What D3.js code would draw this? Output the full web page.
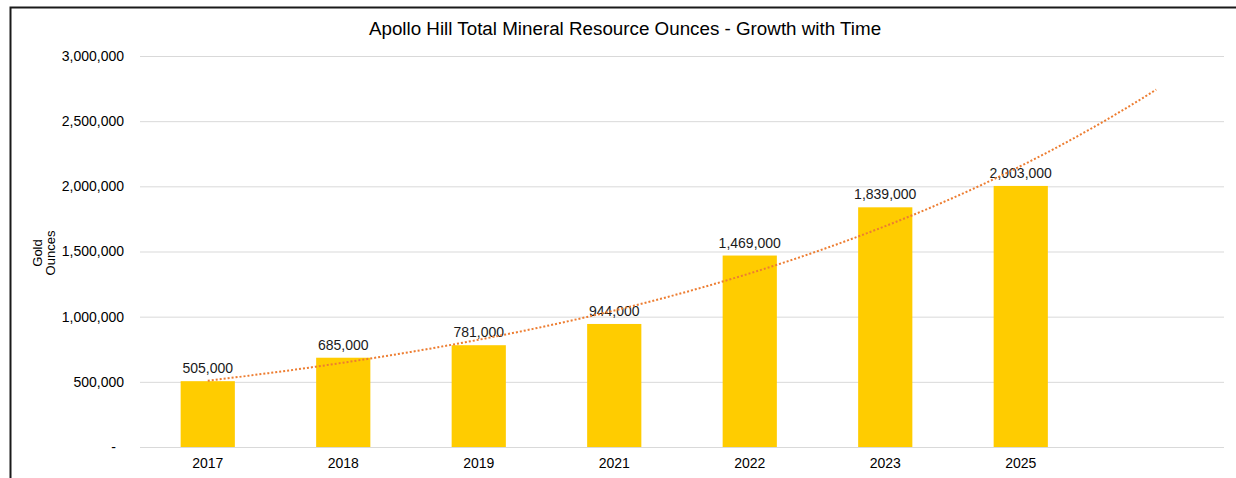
<!DOCTYPE html>
<html>
<head>
<meta charset="utf-8">
<script src="https://cdn.jsdelivr.net/npm/d3@7"></script>
<style>
  html, body { margin: 0; padding: 0; background: #fff; }
  svg { display: block; font-family: "Liberation Sans", Arial, sans-serif; }
</style>
</head>
<body>
<svg id="chart" width="1236" height="478"></svg>
<script>
// ---- data ----
const categories = ["2017", "2018", "2019", "2021", "2022", "2023", "2025"];
const ounces = [505000, 685000, 781000, 944000, 1469000, 1839000, 2003000];
const yTicks = [0, 500000, 1000000, 1500000, 2000000, 2500000, 3000000];
const forecastSlots = 1; // trendline forecast forward one period
const title = "Apollo Hill Total Mineral Resource Ounces - Growth with Time";

const svg = d3.select("#chart");
const W = 1236, H = 478;
const m = { left: 140, right: 12, top: 56, bottom: 31 };
const plotW = W - m.left - m.right;
const plotH = H - m.top - m.bottom;

// frame
svg.append("path")
  .attr("d", `M10.5,${H} V7.5 H${W}`)
  .attr("fill", "none").attr("stroke", "#1a1a1a").attr("stroke-width", 2);

// slots: data categories plus forecast slot(s)
const slots = categories.map((c, i) => i).concat(d3.range(categories.length, categories.length + forecastSlots));
const x = d3.scaleBand().domain(slots).range([m.left, m.left + plotW]).paddingInner(0.6).paddingOuter(0.3);
const xc = i => x(i) + x.bandwidth() / 2;
const y = d3.scaleLinear().domain([0, 3000000]).range([m.top + plotH, m.top]);

// gridlines
const fmt = d3.format(",");
const yAxis = d3.axisLeft(y).tickValues(yTicks)
  .tickSize(-plotW)
  .tickFormat(d => d === 0 ? "-" : fmt(d));
const gy = svg.append("g").attr("transform", `translate(${m.left},0)`).call(yAxis);
gy.select(".domain").remove();
gy.selectAll(".tick line").attr("stroke", "#d9d9d9").attr("stroke-width", 1);
gy.selectAll(".tick text")
  .attr("x", -16).attr("fill", "#000").attr("font-size", 14)
  .attr("font-family", "'Liberation Sans', Arial, sans-serif");
gy.selectAll(".tick").filter(d => d === 0).select("text").attr("x", -24);

// x axis
const xAxis = d3.axisBottom(x).tickSize(0).tickFormat(i => categories[i] || "");
const gx = svg.append("g").attr("transform", `translate(0,${m.top + plotH})`).call(xAxis);
gx.select(".domain").remove();
gx.selectAll(".tick text").attr("dy", "1.3em").attr("fill", "#000").attr("font-size", 14)
  .attr("font-family", "'Liberation Sans', Arial, sans-serif");

// bars
svg.append("g").selectAll("rect").data(ounces).join("rect")
  .attr("x", (d, i) => x(i))
  .attr("y", d => y(d))
  .attr("width", x.bandwidth())
  .attr("height", d => y(0) - y(d))
  .attr("fill", "#FFCC00");

// data labels
svg.append("g").selectAll("text").data(ounces).join("text")
  .attr("x", (d, i) => xc(i))
  .attr("y", d => y(d) - 8)
  .attr("text-anchor", "middle")
  .attr("font-size", 14)
  .attr("fill", "#1a1a1a")
  .text(d => fmt(d));

// exponential trendline (least squares on ln y, x = 1..n), forecast forward
const xs = ounces.map((d, i) => i + 1);
const ls = ounces.map(d => Math.log(d));
const mx = d3.mean(xs), ml = d3.mean(ls);
const b = d3.sum(xs, (v, i) => (v - mx) * (ls[i] - ml)) / d3.sum(xs, v => (v - mx) ** 2);
const a = ml - b * mx;
const trendPts = [];
const lastIdx = categories.length - 1 + forecastSlots;
for (let t = 0; t <= lastIdx; t += 0.05) {
  trendPts.push([xc(0) + (xc(1) - xc(0)) * t, y(Math.exp(a + b * (t + 1)))]);
}
trendPts.push([xc(lastIdx), y(Math.exp(a + b * (lastIdx + 1)))]);
svg.append("path")
  .attr("d", d3.line()(trendPts))
  .attr("fill", "none")
  .attr("stroke", "#ED7D31")
  .attr("stroke-width", 2)
  .attr("stroke-dasharray", "2,2");

// title
svg.append("text")
  .attr("x", 625).attr("y", 35)
  .attr("text-anchor", "middle")
  .attr("font-size", 18.8)
  .attr("fill", "#000")
  .text(title);

// y axis title (two lines, rotated)
const yt = svg.append("text")
  .attr("transform", `translate(42,253) rotate(-90)`)
  .attr("text-anchor", "middle")
  .attr("font-size", 13)
  .attr("fill", "#000");
yt.append("tspan").attr("x", 0).attr("dy", 0).text("Gold");
yt.append("tspan").attr("x", 0).attr("dy", "1.0em").text("Ounces");
</script>
</body>
</html>
